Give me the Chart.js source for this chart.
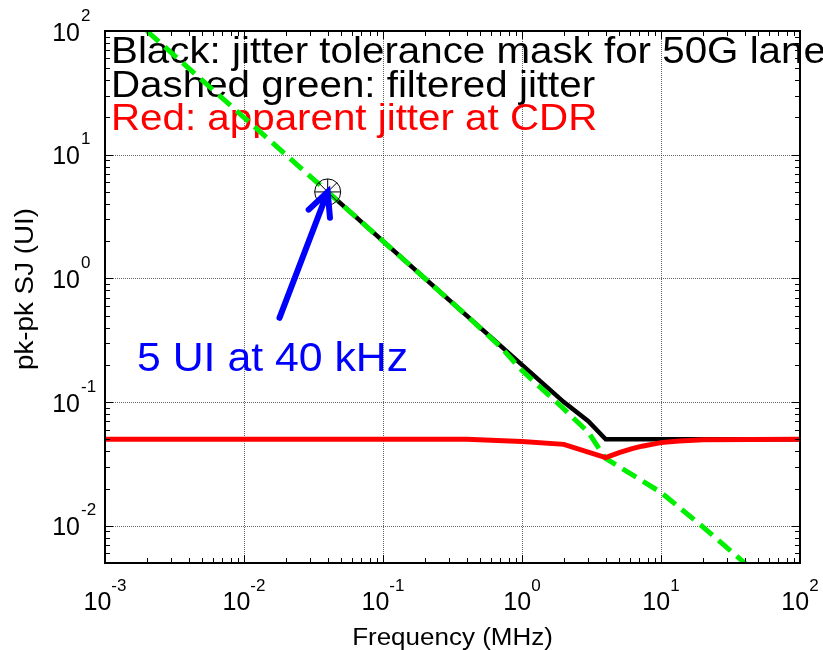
<!DOCTYPE html>
<html>
<head>
<meta charset="utf-8">
<script src="https://cdn.jsdelivr.net/npm/chart.js@4.4.0/dist/chart.umd.min.js"></script>
<style>
    html, body { margin: 0; padding: 0; background: #fff; }
</style>
</head>
<body>
<canvas id="jtol" width="823" height="650"></canvas>
<script>
// black: jitter tolerance mask
const maskFreq = [0.04, 0.1, 0.4, 1, 2, 3, 4, 10, 100];
const maskUI = [5, 2, 0.5, 0.2, 0.1, 0.07, 0.05, 0.05, 0.05];

// dashed green: filtered jitter
const filtFreq = [0.002, 0.04, 0.4, 0.7, 1, 2, 3, 4, 10, 20, 40, 100];
const filtUI = [100, 5, 0.5, 0.28, 0.18, 0.088, 0.057, 0.035, 0.0186, 0.0098, 0.005, 0.0019];

// red: apparent jitter at CDR
const cdrFreq = [0.001, 0.4, 1, 2, 4, 5, 6.2, 7.3, 10, 13.5, 20, 100];
const cdrUI = [0.05, 0.05, 0.048, 0.0455, 0.0355, 0.039, 0.042, 0.044, 0.047, 0.0485, 0.0495, 0.05];

// marked point, arrow tail
const markFreq = [0.04];
const markUI = [5];
const arrowTail = [0.018, 0.48];

// decade tick labels (exponents of 10)
const xTickExps = [-3, -2, -1, 0, 1, 2];
const yTickExps = [-2, -1, 0, 1, 2];

const titleLines = [
    ['Black: jitter tolerance mask for 50G lane', '#000000'],
    ['Dashed green: filtered jitter', '#000000'],
    ['Red: apparent jitter at CDR', '#ff0000']
];

const FONT = '"Liberation Sans", Arial, sans-serif';

function pts(xs, ys) {
    return xs.map((x, i) => ({ x: x, y: ys[i] }));
}

function putText(ctx, str, x, y, size, color, align, sx, rot) {
    ctx.save();
    ctx.translate(x, y);
    if (rot) ctx.rotate(rot);
    ctx.scale(sx || 1, 1);
    ctx.font = size + 'px ' + FONT;
    ctx.fillStyle = color;
    ctx.textAlign = align || 'left';
    ctx.textBaseline = 'alphabetic';
    ctx.fillText(str, 0, 0);
    ctx.restore();
}

const matlabAxes = {
    id: 'matlabAxes',
    beforeDatasetsDraw(chart) {
        const { ctx, chartArea: { left, right, top, bottom }, scales: { x, y } } = chart;
        ctx.save();
        // dotted grid at decades
        ctx.strokeStyle = 'rgba(0,0,0,0.6)';
        ctx.lineWidth = 1;
        ctx.setLineDash([1, 1]);
        for (const e of xTickExps) {
            const px = Math.round(x.getPixelForValue(Math.pow(10, e))) + 0.5;
            if (px <= left + 1 || px >= right - 1) continue;
            ctx.beginPath(); ctx.moveTo(px, top); ctx.lineTo(px, bottom); ctx.stroke();
        }
        for (const e of yTickExps) {
            const py = Math.round(y.getPixelForValue(Math.pow(10, e))) + 0.5;
            if (py <= top + 1 || py >= bottom - 1) continue;
            ctx.beginPath(); ctx.moveTo(left, py); ctx.lineTo(right, py); ctx.stroke();
        }
        ctx.restore();

        // legend-like text lines
        titleLines.forEach((t, i) => {
            putText(ctx, t[0], 111, 63 + i * 33.7, 36, t[1], 'left', 1.12);
        });
    },
    afterDatasetsDraw(chart) {
        const { ctx, chartArea: { left, right, top, bottom }, scales: { x, y } } = chart;
        ctx.save();
        ctx.strokeStyle = '#000';
        ctx.lineWidth = 1;
        ctx.setLineDash([]);

        // minor + major ticks, inside, all four sides
        for (let d = -3; d < 2; d++) {
            for (let m = 1; m <= 10; m++) {
                const v = m * Math.pow(10, d);
                const px = Math.round(x.getPixelForValue(v)) + 0.5;
                const len = (m === 1 || m === 10) ? 8 : 5;
                ctx.beginPath();
                ctx.moveTo(px, bottom); ctx.lineTo(px, bottom - len);
                ctx.moveTo(px, top); ctx.lineTo(px, top + len);
                ctx.stroke();
            }
        }
        for (let d = -3; d < 2; d++) {
            for (let m = 1; m <= 10; m++) {
                const v = m * Math.pow(10, d);
                if (v < y.min || v > y.max) continue;
                const py = Math.round(y.getPixelForValue(v)) + 0.5;
                const len = (m === 1 || m === 10) ? 8 : 5;
                ctx.beginPath();
                ctx.moveTo(left, py); ctx.lineTo(left + len, py);
                ctx.moveTo(right, py); ctx.lineTo(right - len, py);
                ctx.stroke();
            }
        }

        // box
        ctx.lineWidth = 2;
        ctx.strokeRect(left, top, right - left, bottom - top);

        // tick labels 10^n
        ctx.fillStyle = '#000';
        for (const e of xTickExps) {
            const px = x.getPixelForValue(Math.pow(10, e));
            ctx.font = '25px ' + FONT;
            const w1 = ctx.measureText('10').width;
            ctx.font = '17px ' + FONT;
            const w2 = ctx.measureText(String(e)).width;
            const x0 = px - (w1 + w2) / 2;
            putText(ctx, '10', x0, 610, 25, '#000', 'left');
            putText(ctx, String(e), x0 + w1, 590.5, 17, '#000', 'left');
        }
        for (const e of yTickExps) {
            const py = y.getPixelForValue(Math.pow(10, e));
            putText(ctx, '10', 80, py + 9.5, 25, '#000', 'right');
            putText(ctx, String(e), 81, py - 10.5, 17, '#000', 'left');
        }

        // axis titles
        putText(ctx, 'Frequency (MHz)', (left + right) / 2, 645, 23, '#000', 'center', 1.13);
        putText(ctx, 'pk-pk SJ (UI)', 33, 289, 25, '#000', 'center', 1.11, -Math.PI / 2);

        // annotation arrow + text
        const tx = x.getPixelForValue(arrowTail[0]), ty = y.getPixelForValue(arrowTail[1]);
        const hx = x.getPixelForValue(markFreq[0]), hy = y.getPixelForValue(markUI[0]);
        const ang = Math.atan2(ty - hy, tx - hx);
        const wing = 26, spread = 26 * Math.PI / 180;
        ctx.strokeStyle = '#0000ff';
        ctx.lineWidth = 6;
        ctx.lineCap = 'round';
        ctx.beginPath();
        ctx.moveTo(tx, ty); ctx.lineTo(hx, hy);
        ctx.moveTo(hx + wing * Math.cos(ang - spread), hy + wing * Math.sin(ang - spread));
        ctx.lineTo(hx, hy);
        ctx.lineTo(hx + wing * Math.cos(ang + spread), hy + wing * Math.sin(ang + spread));
        ctx.stroke();
        ctx.restore();

        putText(ctx, '5 UI at 40 kHz', 137, 370.5, 40, '#0000ff', 'left', 1.07);
    }
};

const markerSet = (style) => ({
    data: pts(markFreq, markUI),
    showLine: false,
    pointStyle: style,
    pointRadius: 13,
    pointBorderColor: '#000',
    pointBackgroundColor: 'rgba(0,0,0,0)',
    pointBorderWidth: 1,
    clip: false,
    order: 0
});

new Chart(document.getElementById('jtol'), {
    type: 'line',
    data: {
        datasets: [
            {
                label: 'mask',
                data: pts(maskFreq, maskUI),
                borderColor: '#000000',
                borderWidth: 4.5,
                pointRadius: 0,
                clip: 0,
                order: 3
            },
            {
                label: 'filtered',
                data: pts(filtFreq, filtUI),
                borderColor: '#00f000',
                borderWidth: 5,
                borderDash: [16, 8],
                pointRadius: 0,
                clip: 0,
                order: 2
            },
            {
                label: 'apparent',
                data: pts(cdrFreq, cdrUI),
                borderColor: '#ff0000',
                borderWidth: 5,
                pointRadius: 0,
                clip: 0,
                order: 1
            },
            markerSet('circle'),
            markerSet('cross'),
            markerSet('crossRot')
        ]
    },
    plugins: [matlabAxes],
    options: {
        responsive: false,
        animation: false,
        layout: {
            padding: { left: 105, right: 23, top: 31, bottom: 87 }
        },
        elements: {
            line: { tension: 0, borderJoinStyle: 'miter' }
        },
        scales: {
            x: { type: 'logarithmic', min: 0.001, max: 100, display: false },
            y: { type: 'logarithmic', min: 0.005, max: 100, display: false }
        },
        plugins: {
            legend: { display: false },
            tooltip: { enabled: false }
        }
    }
});
</script>
</body>
</html>
